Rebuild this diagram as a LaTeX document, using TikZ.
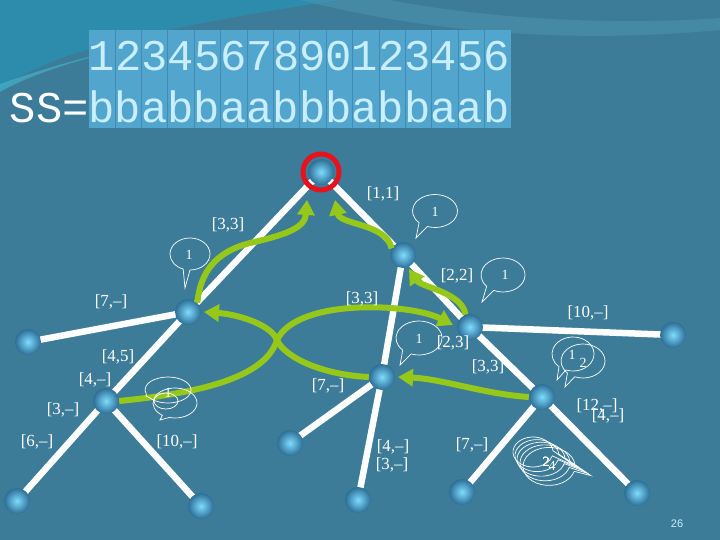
\documentclass[tikz,border=0pt]{standalone}
\usepackage{fontspec}
\setmainfont{Liberation Serif}
\newfontfamily\monof{Liberation Mono}
\newfontfamily\sansf{Liberation Sans}
\usetikzlibrary{arrows.meta,calc,backgrounds}
\pgfdeclarelayer{edges}
\pgfsetlayers{background,edges,main}
\definecolor{bgc}{RGB}{60,124,152}
\definecolor{tealA}{RGB}{45,140,172}
\definecolor{tealB}{RGB}{70,185,210}
\definecolor{bandc}{RGB}{78,150,178}
\definecolor{grn}{RGB}{150,200,25}
\definecolor{hl}{RGB}{82,165,205}
\definecolor{hlsep}{RGB}{66,140,180}
\definecolor{digc}{RGB}{200,238,255}
\definecolor{shad}{RGB}{25,55,75}
\definecolor{ringred}{RGB}{232,18,28}
\definecolor{ballin}{RGB}{125,220,255}
\definecolor{ballout}{RGB}{45,110,150}
\newcommand\spb[7]{% cx cy rx ry tip theta1 theta2
  \draw[bub] ($(#1,#2)+(#7:#3bp and #4bp)$) arc[start angle=#7, end angle={#6+360}, x radius=#3bp, y radius=#4bp] -- #5 -- cycle;}
\begin{document}
\begin{tikzpicture}[x=1bp,y=-1bp,
  ball/.style={circle, minimum size=26bp, inner sep=0pt, inner color=ballin, outer color=ballout},
  edge/.style={white, line width=6.5bp},
  garrow/.style={grn, line width=6bp, -{Triangle[length=15bp,width=17bp]}},
  lab/.style={text=white, font=\fontsize{17}{17}\selectfont, inner sep=0pt},
  bub/.style={draw=white, line width=0.7bp},
  btxt/.style={text=white, font=\fontsize{14}{14}\selectfont, inner sep=0pt}]
% background
\begin{pgfonlayer}{background}
\fill[bgc] (0,0) rectangle (720,540);
\fill[tealA] (0,0) -- (340,0) .. controls (260,12) and (160,28) .. (70,55) .. controls (40,66) and (15,78) .. (0,88) -- cycle;
\fill[tealB, opacity=0.6] (0,92) .. controls (30,75) and (70,62) .. (120,50) .. controls (80,58) and (40,70) .. (0,84) -- cycle;
\fill[bandc, opacity=0.5] (300,0) .. controls (420,30) and (560,45) .. (720,30) -- (720,18) .. controls (580,28) and (450,12) .. (390,0) -- cycle;
% highlight box
\fill[hl] (88.5,30) rectangle (511,128);
\foreach \k in {1,...,15} \draw[hlsep, line width=0.8bp] ({88.5+26.4*\k},30) -- ({88.5+26.4*\k},128);
\end{pgfonlayer}
\useasboundingbox (0,0) rectangle (720,540);
% top texts
\node[anchor=base west, inner sep=0pt, text=digc, font=\monof\fontsize{44}{44}\selectfont] (digits) at (88.7,71) {1234567890123456};
\node[anchor=base west, inner sep=0pt, font=\monof\fontsize{44}{44}\selectfont] (ss) at (9.5,123) {\textcolor{white}{SS=}\textcolor{digc}{bbabbaabbbabbaab}};
% tree nodes
\node[ball] (root) at (321,172) {};
\node[ball] (a) at (188,312) {};
\node[ball] (b) at (403,255) {};
\node[ball] (c) at (28,342) {};
\node[ball] (d) at (106,401) {};
\node[ball] (e) at (17,501) {};
\node[ball] (f) at (201,506) {};
\node[ball] (g) at (470,327) {};
\node[ball] (h) at (382,377) {};
\node[ball] (i) at (290,443) {};
\node[ball] (j) at (358,500) {};
\node[ball] (k) at (673,335) {};
\node[ball] (l) at (542,397) {};
\node[ball] (m) at (462,492) {};
\node[ball] (n) at (637,493) {};
\begin{pgfonlayer}{edges}
\draw[edge] (root.center) -- (a.center);
\draw[edge] (root.center) -- (b.center);
\draw[edge] (a.center) -- (c.center);
\draw[edge] (a.center) -- (d.center);
\draw[edge] (d.center) -- (e.center);
\draw[edge] (d.center) -- (f.center);
\draw[edge] (b.center) -- (g.center);
\draw[edge] (b.center) -- (h.center);
\draw[edge] (h.center) -- (i.center);
\draw[edge] (h.center) -- (j.center);
\draw[edge] (g.center) -- (k.center);
\draw[edge] (g.center) -- (l.center);
\draw[edge] (l.center) -- (m.center);
\draw[edge] (l.center) -- (n.center);
\end{pgfonlayer}
% red ring
\draw[ringred, line width=5bp] (root.center) circle[radius=18bp];
% green arrows
\coordinate (xc) at (277,340);
\draw[garrow] (b.150) .. controls +(-5,-25) and +(5,25) .. ($(root)+(14,28)$);
\draw[garrow] (a.45) .. controls +(3,-30) and (215,252) .. (250,243) .. controls (285,235) and (305,228) .. ($(root)+(-14,28)$);
\draw[garrow] (g.110) .. controls +(-3,-22) and +(12,18) .. ($(b)+(6,14)$);
\draw[garrow] (d.east) .. controls +(80,-8) and +(-12,38) .. (xc) .. controls +(20,-42) and (410,303) .. ($(g)+(-17,-2)$);
\draw[garrow] (h.west) .. controls +(-45,-2) and +(8,18) .. (xc) .. controls +(-7,-17) and +(30,2) .. ($(a)+(16,0)$);
\draw[garrow] (l.west) .. controls +(-45,-3) and +(45,2) .. ($(h)+(16,0)$);
% speech bubbles
\spb{435}{211}{22.5}{16.5}{(416,238)}{225}{250}
\node[btxt] at (435,212) {1};
\spb{190}{254}{20}{16}{(185,288)}{250}{270}
\node[btxt] at (189,255) {1};
\spb{503}{275}{22}{17}{(482,302)}{222}{245}
\node[btxt] at (505,275) {1};
\spb{419}{338}{23}{17}{(400,365)}{225}{250}
\node[btxt] at (419,339) {1};
\spb{168}{390}{23}{13}{(146,396)}{200}{215}
\spb{175}{403}{22}{15}{(160,420)}{235}{255}
\draw[bub] (166,401) ellipse[x radius=12bp, y radius=8bp];
\node[btxt] at (168,393) {1};
\spb{573}{354}{21}{17}{(557,380)}{228}{250}
\spb{583}{361}{22}{17}{(565,387)}{225}{248}
\node[btxt] at (572,355) {1};
\node[btxt] at (583,363) {2};
\foreach \s/\rx/\ry in {0/20/15,4/22/16,8/24/17,12/25/18,16/26/19}
  \spb{\fpeval{533+\s}}{\fpeval{452+0.9*\s}}{\rx}{\ry}{(\fpeval{575+\s},\fpeval{466+0.6*\s})}{-15}{5}
\node[btxt] at (546,462) {2};
\node[btxt] at (552,466) {4};
% labels
\node[lab] at (383,194) {[1,1]};
\node[lab] at (228,225) {[3,3]};
\node[lab] at (457,276) {[2,2]};
\node[lab] at (362,299) {[3,3]};
\node[lab] at (111,302) {[7,--]};
\node[lab] at (588,313) {[10,--]};
\node[lab] at (453,343) {[2,3]};
\node[lab] at (118,357) {[4,5]};
\node[lab] at (95,380) {[4,--]};
\node[lab] at (488,367) {[3,3]};
\node[lab] at (328,386) {[7,--]};
\node[lab] at (63,410) {[3,--]};
\node[lab] at (597,406) {[12,--]};
\node[lab] at (608,416) {[4,--]};
\node[lab] at (37,442) {[6,--]};
\node[lab] at (177,442) {[10,--]};
\node[lab] at (393,447) {[4,--]};
\node[lab] at (392,465) {[3,--]};
\node[lab] at (472,445) {[7,--]};
\node[text=digc, font=\sansf\fontsize{11}{11}\selectfont, inner sep=0pt] at (677,524) {26};
\end{tikzpicture}
\end{document}
